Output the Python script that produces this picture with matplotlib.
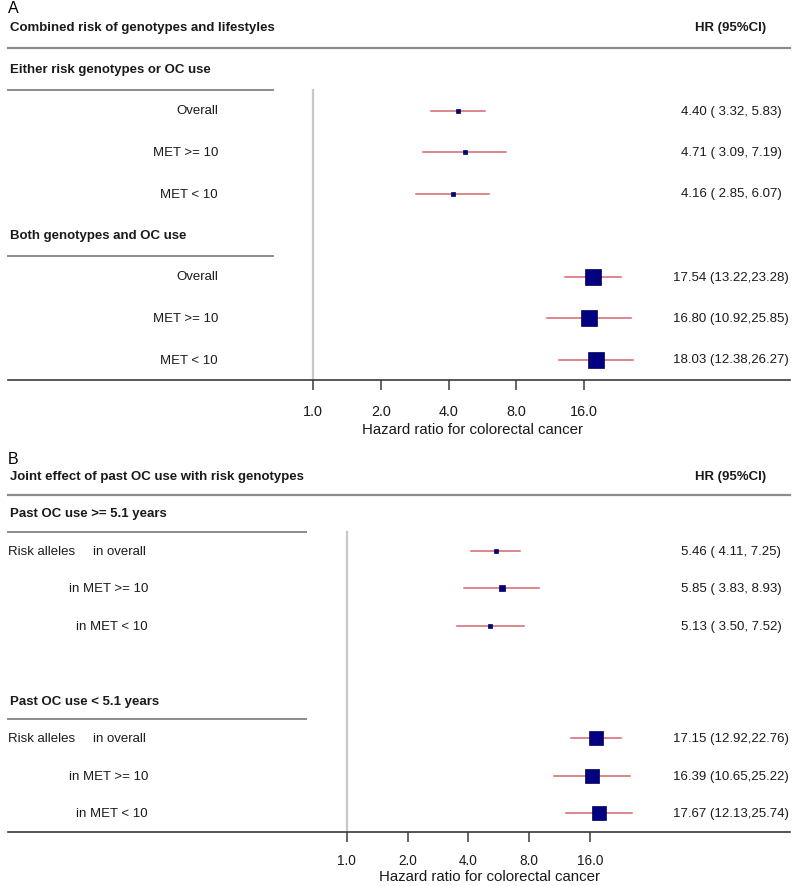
import matplotlib
matplotlib.use("Agg")
import matplotlib.pyplot as plt

plt.rcParams["font.family"] = ["Liberation Sans", "DejaVu Sans"]

# Panel A : risque combiné génotypes / modes de vie
a_title = "Combined risk of genotypes and lifestyles"
a_groups = ["Either risk genotypes or OC use", "Both genotypes and OC use"]
a_rows = ["Overall", "MET >= 10", "MET < 10"]
a_hr = [4.40, 4.71, 4.16, 17.54, 16.80, 18.03]
a_lo = [3.32, 3.09, 2.85, 13.22, 10.92, 12.38]
a_hi = [5.83, 7.19, 6.07, 23.28, 25.85, 26.27]

# Panel B : utilisation passée de CO et génotypes à risque
b_title = "Joint effect of past OC use with risk genotypes"
b_groups = ["Past OC use >= 5.1 years", "Past OC use < 5.1 years"]
b_rows = ["in overall", "in MET >= 10", "in MET < 10"]
b_hr = [5.46, 5.85, 5.13, 17.15, 16.39, 17.67]
b_lo = [4.11, 3.83, 3.50, 12.92, 10.65, 12.13]
b_hi = [7.25, 8.93, 7.52, 22.76, 25.22, 25.74]

ticks = [1, 2, 4, 8, 16]
tick_labels = ["1.0", "2.0", "4.0", "8.0", "16.0"]
xlab = "Hazard ratio for colorectal cancer"

# tailles des carrés (px)
a_box = [4.5, 4.5, 4.5, 15.7, 15.3, 16.0]
b_box = [4.6, 5.6, 4.8, 13.7, 13.2, 13.6]

W, H = 800, 887
fig = plt.figure(figsize=(W / 100, H / 100), dpi=100)

BOX = "#000080"
CI = "#d2666e"
FS = 9.5


def fx(px):
    # pixel x -> fraction d'axe (axes de x=8 à x=790)
    return (px - 8) / 782


def panel(letter, title, groups, rows, hr, lo, hi, boxes, row0, step,
          one_px, per_doubling, gap, label_right, sub_line_end, tick_fs,
          tick_pad, xlab_off, b_style):
    n_rows = 2 * len(rows) + len(groups) + gap
    top = row0 - 0.5 * step
    bottom = row0 + (n_rows - 0.5) * step
    ax = fig.add_axes([8 / W, 1 - bottom / H, 782 / W, (bottom - top) / H])
    ax.set_xscale("log", base=2)
    ax.set_xlim(2 ** ((8 - one_px) / per_doubling), 2 ** ((790 - one_px) / per_doubling))
    ax.set_ylim(n_rows - 0.5, -0.5)
    yt = ax.get_yaxis_transform()

    for s in ["left", "right"]:
        ax.spines[s].set_visible(False)
    ax.spines["top"].set_color("#8c8c8c")
    ax.spines["top"].set_linewidth(1.6)
    ax.spines["bottom"].set_color("#3a3a3a")
    ax.spines["bottom"].set_linewidth(1.2)
    ax.set_yticks([])
    ax.set_xticks(ticks)
    ax.set_xticklabels(tick_labels, fontsize=tick_fs, color="#1a1a1a")
    ax.xaxis.set_minor_locator(matplotlib.ticker.NullLocator())
    ax.tick_params(axis="x", direction="out", length=7, width=1.1,
                   color="#3a3a3a", pad=tick_pad)
    ax.annotate(xlab, xy=(5.08, 0), xycoords=ax.get_xaxis_transform(),
                xytext=(0, -xlab_off), textcoords="offset points",
                ha="center", va="center", fontsize=10.8, color="#1a1a1a")

    # titres
    ax.text(fx(8), -1.47, letter, transform=yt, fontsize=11.5, va="center", ha="left")
    ax.text(fx(10), -1, title, transform=yt, fontsize=FS, fontweight="bold",
            va="center", ha="left", color="#1a1a1a")
    ax.text(fx(731), -1, "HR (95%CI)", transform=yt, fontsize=FS,
            fontweight="bold", va="center", ha="center", color="#1a1a1a")

    # lignes
    g_rows = [0, len(rows) + 1 + gap]
    data_rows = [g + 1 + i for g in g_rows for i in range(len(rows))]
    ax.plot([1, 1], [0.5, n_rows - 0.5], color="#c8c8c8", lw=1.6, zorder=0)

    for g, name in zip(g_rows, groups):
        ax.text(fx(10), g, name, transform=yt, fontsize=FS, fontweight="bold",
                va="center", ha="left", color="#1a1a1a")
        ax.plot([fx(8), fx(sub_line_end)], [g + 0.5, g + 0.5], transform=yt,
                color="#8c8c8c", lw=1.4, clip_on=False)

    for k, r in enumerate(data_rows):
        name = rows[k % len(rows)]
        if b_style:
            if k % len(rows) == 0:
                ax.text(fx(8), r, "Risk alleles", transform=yt, fontsize=FS,
                        va="center", ha="left", color="#1a1a1a")
                ax.text(fx(93), r, name, transform=yt, fontsize=FS,
                        va="center", ha="left", color="#1a1a1a")
            else:
                ax.text(fx(label_right), r, name, transform=yt, fontsize=FS,
                        va="center", ha="right", color="#1a1a1a")
        else:
            ax.text(fx(label_right), r, name, transform=yt, fontsize=FS,
                    va="center", ha="right", color="#1a1a1a")
        ax.plot([lo[k], hi[k]], [r, r], color=CI, lw=1.1, zorder=2)
        ax.plot(hr[k], r, marker="s", ms=boxes[k] * 0.72, color=BOX,
                mec="#000050", mew=0.5, zorder=3)
        ax.text(fx(731), r, "%.2f (%5.2f,%5.2f)" % (hr[k], lo[k], hi[k]),
                transform=yt, fontsize=FS, va="center", ha="center", color="#1a1a1a")
    return ax


panel("A", a_title, a_groups, a_rows, a_hr, a_lo, a_hi, a_box,
      row0=70, step=41.5, one_px=313.3, per_doubling=67.7, gap=0,
      label_right=218, sub_line_end=273, tick_fs=10.4, tick_pad=10,
      xlab_off=35, b_style=False)

panel("B", b_title, b_groups, b_rows, b_hr, b_lo, b_hi, b_box,
      row0=514.5, step=37.44, one_px=346.7, per_doubling=60.8, gap=1,
      label_right=148, sub_line_end=306, tick_fs=9.8, tick_pad=8,
      xlab_off=31.7, b_style=True)

fig.savefig("out.png", dpi=100, facecolor="white")
plt.close()
